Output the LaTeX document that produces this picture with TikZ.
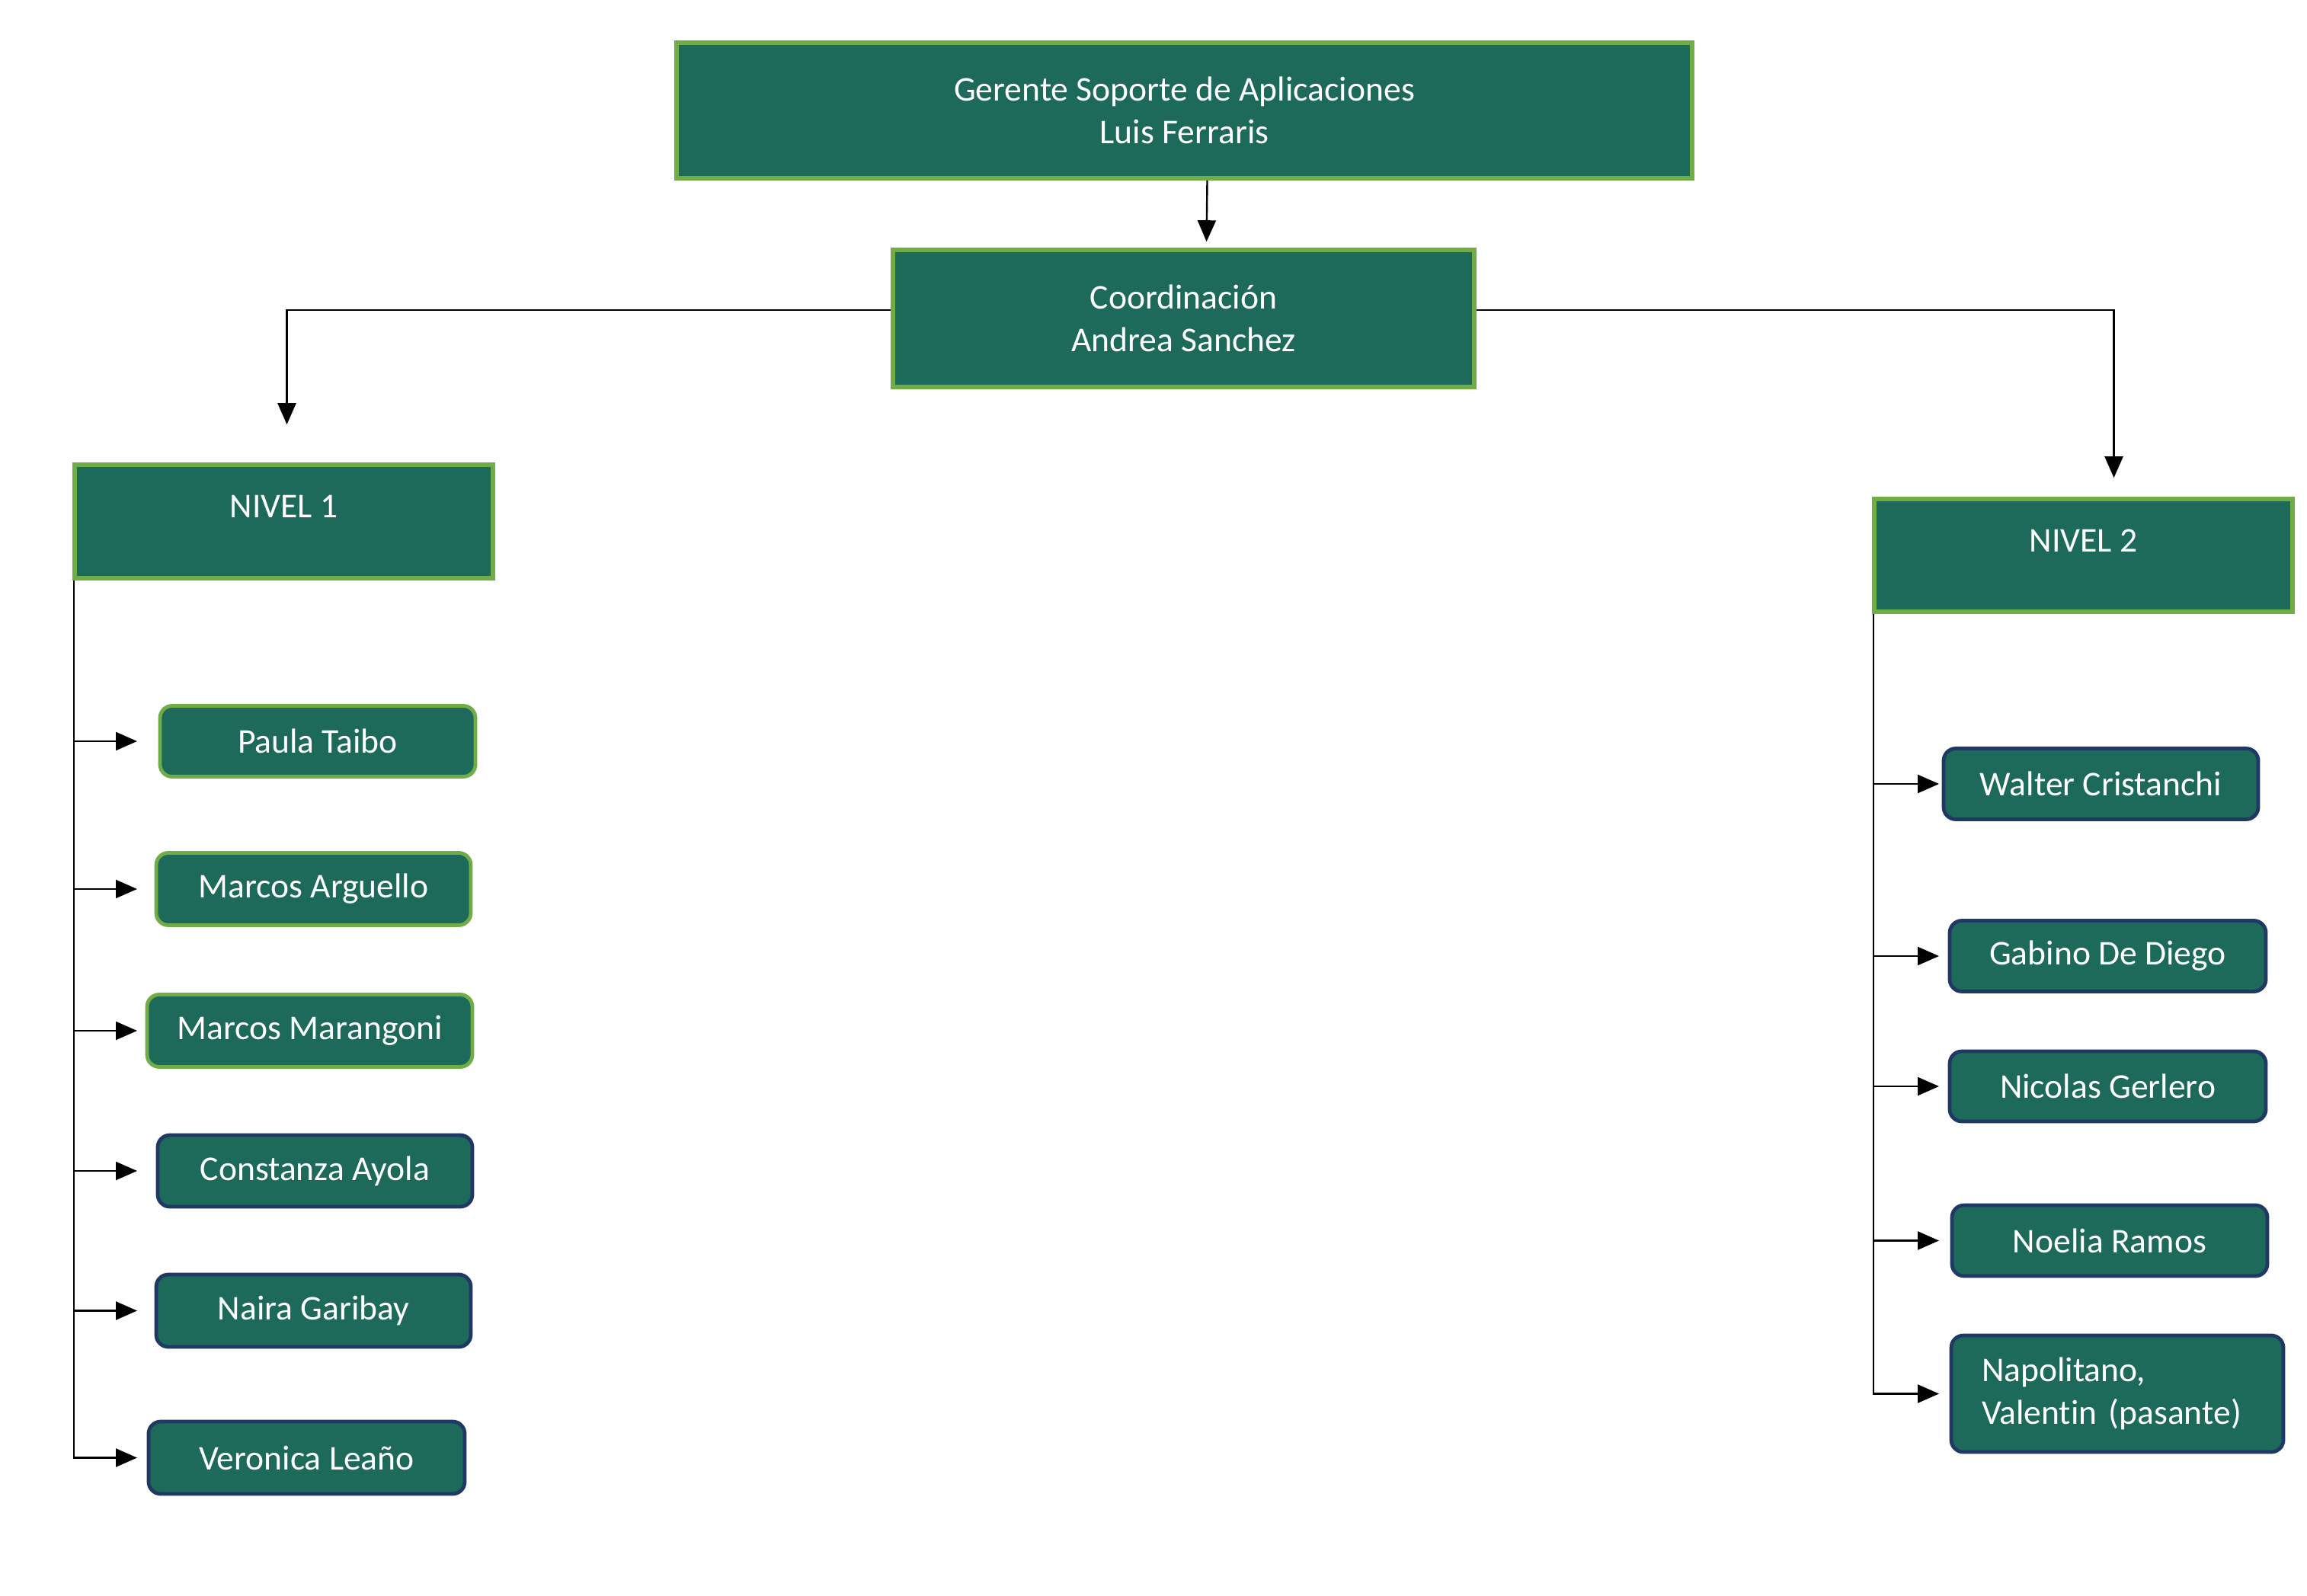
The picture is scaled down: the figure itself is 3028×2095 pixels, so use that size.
\documentclass[tikz,border=0pt]{standalone}
\usepackage{fontspec}
\setmainfont{Carlito}
\usetikzlibrary{arrows.meta}
\definecolor{boxfill}{RGB}{29,106,90}
\definecolor{greenline}{RGB}{112,173,71}
\definecolor{navyline}{RGB}{32,56,100}
\begin{document}
\begin{tikzpicture}[x=0.25pt,y=-0.25pt,
  every node/.style={font=\fontsize{11.4}{14}\selectfont, text=white, align=center, inner sep=0pt},
  headbox/.style={draw=greenline, line width=1.4pt, fill=boxfill},
  pbox/.style={fill=boxfill, line width=1.2pt, rounded corners=4pt},
  pgreen/.style={pbox, draw=greenline},
  pnavy/.style={pbox, draw=navyline},
  arr/.style={draw=black, line width=0.6pt, -{Triangle[length=7pt,width=6pt]}}]
\useasboundingbox[fill=white] (0,0) rectangle (3028,2095);

\node[headbox, minimum width=333.25pt, minimum height=44.5pt] (top) at (1554.5,145) {Gerente Soporte de Aplicaciones\\Luis Ferraris};
\node[headbox, minimum width=190.75pt, minimum height=45pt] (coord) at (1553.5,418) {Coordinación\\Andrea Sanchez};
\node[headbox, minimum width=137.25pt, minimum height=37.25pt] (n1) at (372.5,684.5) {\raisebox{4pt}[0.7em][0.2em]{NIVEL 1}};
\node[headbox, minimum width=137.25pt, minimum height=37pt] (n2) at (2734.5,729) {\raisebox{4pt}[0.7em][0.2em]{NIVEL 2}};

\node[pgreen, minimum width=103.5pt, minimum height=23.25pt] (p1) at (417,973) {Paula Taibo};
\node[pgreen, minimum width=103.25pt, minimum height=23.75pt] (p2) at (411.5,1167) {Marcos Arguello};
\node[pgreen, minimum width=106.75pt, minimum height=23.75pt] (p3) at (406.5,1353) {Marcos Marangoni};
\node[pnavy, minimum width=103.25pt, minimum height=23.5pt] (p4) at (413.5,1537) {Constanza Ayola};
\node[pnavy, minimum width=103.25pt, minimum height=23.75pt] (p5) at (411.5,1720.5) {Naira Garibay};
\node[pnavy, minimum width=103.75pt, minimum height=23.75pt] (p6) at (402.5,1913.5) {Veronica Leaño};

\node[pnavy, minimum width=103.25pt, minimum height=23.25pt] (q1) at (2757.5,1029) {Walter Cristanchi};
\node[pnavy, minimum width=103.75pt, minimum height=23.25pt] (q2) at (2766.5,1255) {Gabino De Diego};
\node[pnavy, minimum width=103.75pt, minimum height=23pt] (q3) at (2766.5,1426) {Nicolas Gerlero};
\node[pnavy, minimum width=103.5pt, minimum height=23.25pt] (q4) at (2769,1628.5) {Noelia Ramos};
\node[pnavy, minimum width=109pt, minimum height=38.25pt, text width=89pt, align=left, inner xsep=10pt,
  font=\fontsize{11.4}{14}\selectfont\addfontfeatures{Ligatures=NoCommon}] (q5) at (2779,1829.5) {Napolitano,\\Valentin (pasante)};

\coordinate (endL) at (180,0);
\coordinate (endR) at (2545,0);

\draw[arr, shorten >=2pt] ([xshift=7.5pt]top.south) -- ([xshift=7.5pt]coord.north);
\draw[arr, shorten >=12.5pt] ([yshift=2.75pt]coord.west) -| ([xshift=1pt]n1.north);
\draw[arr, shorten >=6.25pt] ([yshift=2.75pt]coord.east) -| ([xshift=10pt]n2.north);

\foreach \p in {p1,p2,p3,p4,p5,p6}
  \draw[arr] ([xshift=0.5pt]n1.south west) |- (\p.west -| endL);
\foreach \q in {q1,q2,q3,q4,q5}
  \draw[arr] ([xshift=0.5pt]n2.south west) |- (\q.west -| endR);
\end{tikzpicture}
\end{document}
